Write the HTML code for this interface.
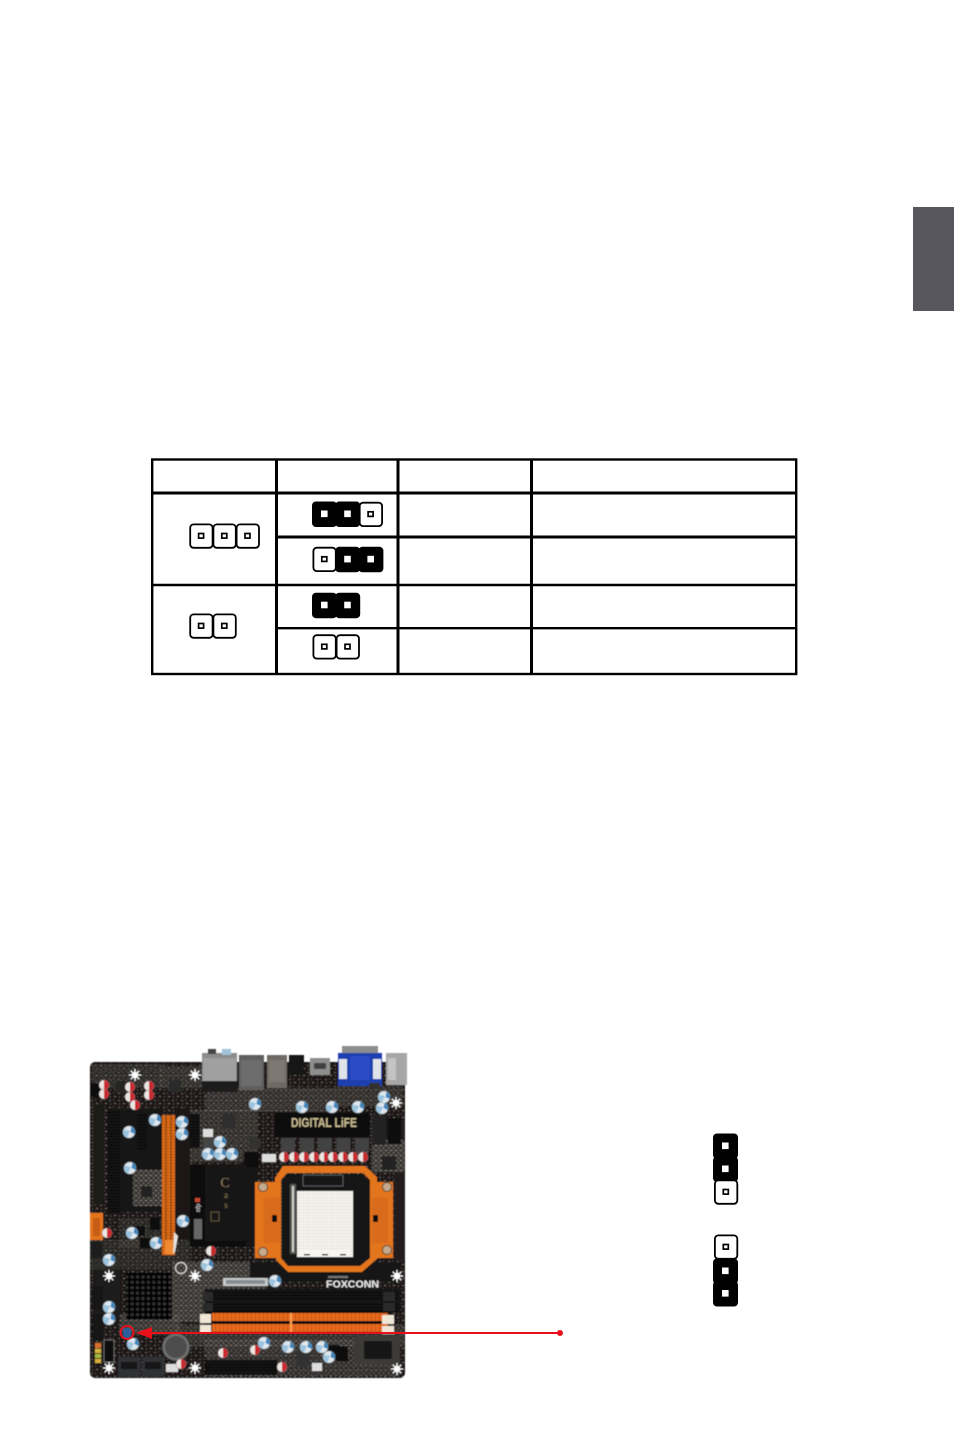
<!DOCTYPE html>
<html><head><meta charset="utf-8"><style>
html,body{margin:0;padding:0;background:#fff}
svg{display:block}
</style></head><body>
<svg width="954" height="1452" viewBox="0 0 954 1452" xmlns="http://www.w3.org/2000/svg">
<defs>
<filter id="b" x="-5%" y="-5%" width="110%" height="110%"><feGaussianBlur stdDeviation="0.45"/></filter>
<pattern id="spk" width="9" height="7" patternUnits="userSpaceOnUse">
<rect width="9" height="7" fill="#1a1817"/>
<rect x="1" y="1" width="2" height="1" fill="#5c5855"/><rect x="5" y="0" width="1" height="2" fill="#3f3c3a"/>
<rect x="6" y="4" width="2" height="1" fill="#6a6662"/><rect x="2" y="4" width="1" height="2" fill="#474441"/>
</pattern>
<pattern id="spk2" width="5" height="5" patternUnits="userSpaceOnUse">
<rect width="5" height="5" fill="#45423f"/>
<rect x="0" y="0" width="2" height="1" fill="#9a958f"/><rect x="3" y="2" width="1" height="2" fill="#7d7974"/><rect x="1" y="3" width="1" height="1" fill="#1d1b1a"/>
</pattern>
<pattern id="sink" width="5.4" height="5.4" patternUnits="userSpaceOnUse">
<rect width="5.4" height="5.4" fill="#050505"/><rect x="1" y="1" width="3" height="3" fill="#333"/>
</pattern>
<pattern id="sock" width="3" height="3" patternUnits="userSpaceOnUse">
<rect width="3" height="3" fill="#f4f2ec"/><rect width="1" height="1" fill="#d0cdc4"/>
</pattern>
<pattern id="teeth" width="3" height="3" patternUnits="userSpaceOnUse">
<rect width="3" height="3" fill="#e2711f"/><rect y="2" width="3" height="1" fill="#b9590f"/>
</pattern>
<pattern id="slot" width="3" height="3" patternUnits="userSpaceOnUse">
<rect width="3" height="3" fill="#171717"/><rect y="2" width="3" height="1" fill="#050505"/>
</pattern>
<pattern id="dimmO" width="4" height="4" patternUnits="userSpaceOnUse">
<rect width="4" height="4" fill="#e8691c"/><rect x="3" width="1" height="4" fill="#c45712"/>
</pattern>
<symbol id="bc" overflow="visible"><circle r="6" fill="#dfe8ee" stroke="#8f9aa0" stroke-width=".6"/><path d="M-5.4 -2.4A6 6 0 0 0 -2 5.6L1 -1Z" fill="#9cc4df"/><path d="M2.5 -5.400A6 6 0 0 1 5.7 2L1.500 0Z" fill="#3f86bd"/></symbol>
<symbol id="rc" overflow="visible"><circle r="5" fill="#ece6e3" stroke="#8d8582" stroke-width=".5"/><path d="M0 -5A5 5 0 0 1 0 5Z" fill="#c92c30"/></symbol>
<symbol id="st" overflow="visible"><path d="M0 -6V6M-6 0H6M-4.2 -4.2L4.2 4.2M-4.2 4.2L4.2 -4.2" stroke="#fff" stroke-width="1.100"/><circle r="3.200" fill="#fff"/></symbol>
<symbol id="po" overflow="visible"><rect x=".9" y=".9" width="22.4" height="23.4" rx="3.400" fill="#fff" stroke="#000" stroke-width="1.800"/><rect x="9.300" y="10" width="5" height="4.600" fill="#fff" stroke="#000" stroke-width="1.700"/></symbol>
<symbol id="pc" overflow="visible"><rect x="-.5" y="0" width="25" height="25.500" rx="4" fill="#000"/><rect x="8.500" y="9" width="6.600" height="6.600" fill="#fff"/></symbol>
</defs>

<rect width="954" height="1452" fill="#fff"/>
<rect x="913" y="207" width="41" height="104" fill="#57575d"/>

<!-- table -->
<g stroke="#000" fill="none">
<rect x="152.200" y="459.500" width="644" height="214.500" stroke-width="2.400"/>
<path d="M276.500 459V674M398 459V674M531.500 459V674" stroke-width="3"/>
<path d="M152 493H796M276 537H796" stroke-width="3"/>
<path d="M152 585H796" stroke-width="2.400"/>
<path d="M276 628.200H796" stroke-width="2.400"/>
</g>
<!-- table jumpers -->
<use href="#po" x="189.300" y="523.500"/><use href="#po" x="212.500" y="523.500"/><use href="#po" x="235.700" y="523.500"/>
<use href="#po" x="189.300" y="613.500"/><use href="#po" x="212.500" y="613.500"/>
<use href="#pc" x="312.500" y="501.500"/><use href="#pc" x="335.700" y="501.500"/><use href="#po" x="358.800" y="501.800"/>
<use href="#po" x="312.500" y="546.800"/><use href="#pc" x="335.700" y="546.800"/><use href="#pc" x="358.900" y="546.800"/>
<use href="#pc" x="312.500" y="592.700"/><use href="#pc" x="335.700" y="592.700"/>
<use href="#po" x="312.500" y="634.300"/><use href="#po" x="335.700" y="634.300"/>

<!-- right jumpers -->
<use href="#pc" x="713.500" y="1133.500"/><use href="#pc" x="713.500" y="1156.500"/><use href="#po" x="714" y="1179.500"/>
<use href="#po" x="714" y="1234.500"/><use href="#pc" x="713.500" y="1258.500"/><use href="#pc" x="713.500" y="1281"/>

<!-- motherboard -->
<g filter="url(#b)">
<rect x="90" y="1062" width="315" height="316" rx="5" fill="url(#spk)"/>
<rect x="120" y="1110" width="42" height="102" fill="#141312"/>
<rect x="176" y="1110" width="14" height="130" fill="#1a1918"/>
<rect x="246" y="1165" width="12" height="82" fill="#141312"/>
<rect x="394" y="1120" width="11" height="140" fill="#211f1e"/>
<rect x="95" y="1258" width="25" height="60" fill="#1f1e1d"/>
<rect x="92" y="1064" width="70" height="24" fill="url(#spk2)" opacity=".4"/>
<rect x="160" y="1066" width="42" height="22" fill="url(#spk2)" opacity=".5"/>
<rect x="205" y="1088" width="130" height="24" fill="url(#spk2)" opacity=".55"/>
<rect x="335" y="1086" width="68" height="20" fill="url(#spk2)" opacity=".5"/>
<rect x="372" y="1140" width="32" height="32" fill="url(#spk2)" opacity=".8"/>
<rect x="190" y="1110" width="68" height="52" fill="url(#spk2)" opacity=".5"/>
<rect x="133" y="1170" width="30" height="36" fill="url(#spk2)" opacity=".85"/>
<rect x="120" y="1218" width="45" height="30" fill="url(#spk2)" opacity=".3"/>
<rect x="90" y="1240" width="100" height="30" fill="url(#spk2)" opacity=".3"/>
<rect x="172" y="1262" width="95" height="60" fill="url(#spk2)" opacity=".75"/>
<rect x="176" y="1325" width="228" height="22" fill="url(#spk2)" opacity=".5"/>
<rect x="120" y="1315" width="60" height="20" fill="url(#spk2)" opacity=".7"/>
<rect x="205" y="1340" width="195" height="36" fill="url(#spk2)" opacity=".55"/>
<rect x="250" y="1262" width="150" height="20" fill="#181716"/>
<rect x="355" y="1335" width="45" height="30" fill="#3d3a38"/>
<rect x="364" y="1341" width="28" height="18" fill="#141414"/>
<rect x="325" y="1345" width="15" height="15" fill="#111"/>

<!-- IO -->
<rect x="202" y="1053" width="35" height="34" fill="#8b8b8b"/><rect x="203" y="1058" width="33" height="25" fill="#a0a0a0"/>
<rect x="202" y="1081" width="35" height="11" fill="#1e1e1e"/><rect x="222" y="1049" width="9" height="6" fill="#9fc4dc"/><rect x="208" y="1049" width="8" height="5" fill="#444"/>
<rect x="239" y="1055" width="25" height="35" fill="#5e5e5e"/><rect x="241" y="1060" width="21" height="26" fill="#6d6d6d"/>
<rect x="267" y="1055" width="20" height="33" fill="#6e6a64"/><rect x="269" y="1060" width="16" height="22" fill="#7d7972"/>
<rect x="289" y="1055" width="15" height="20" fill="#141414"/>
<rect x="310" y="1058" width="20" height="17" fill="#8e8e8e"/><rect x="314" y="1063" width="12" height="6" fill="#3f3f3f"/>
<rect x="342" y="1046" width="36" height="9" fill="#8d8d8d"/>
<rect x="338" y="1053" width="44" height="33" fill="#1f3fb0"/>
<rect x="339" y="1059" width="8" height="20" fill="#dfe3ea"/><rect x="373" y="1059" width="8" height="20" fill="#dfe3ea"/>
<rect x="350" y="1056" width="20" height="24" fill="#2a4cc5"/>
<rect x="386" y="1053" width="21" height="32" fill="#a6a6a6"/><rect x="388" y="1058" width="8" height="22" fill="#c4c4c4"/>

<!-- left header / slots -->
<rect x="91" y="1083" width="9" height="14" fill="#0b0b0b"/>
<rect x="93" y="1104" width="10" height="100" fill="#1b1a19"/>
<rect x="108" y="1110" width="12" height="103" fill="url(#slot)"/>
<rect x="137" y="1114" width="10" height="36" fill="url(#slot)"/>
<rect x="190" y="1114" width="10" height="34" fill="url(#slot)"/>
<rect x="162" y="1115" width="13" height="140" fill="url(#teeth)"/>
<rect x="165" y="1115" width="2" height="125" fill="#a8500f"/><rect x="170" y="1115" width="2" height="125" fill="#a8500f"/>
<rect x="165" y="1240" width="8" height="14" fill="#f08a30"/>
<path d="M174 1232l4 4-3 16-2 2Z" fill="#e6e2dc"/>
<rect x="90" y="1213" width="13" height="27" fill="#e5741f"/><rect x="93" y="1218" width="7" height="18" fill="#c65c12"/>
<rect x="91" y="1242" width="11" height="16" fill="#1a1a1a"/>
<rect x="92" y="1286" width="11" height="24" fill="#151515"/><rect x="92" y="1314" width="11" height="26" fill="#151515"/>
<rect x="95" y="1343" width="6" height="5" fill="#d8702a"/><rect x="95" y="1349" width="6" height="4" fill="#d9b63a"/><rect x="95" y="1354" width="6" height="4" fill="#a5b83c"/><rect x="95" y="1359" width="6" height="4" fill="#d8b03a"/>
<rect x="104" y="1340" width="10" height="22" fill="#0d0d0d" stroke="#888" stroke-width=".7"/>

<!-- chips -->
<rect x="115" y="1081" width="13" height="12" fill="#252525"/><rect x="169" y="1080" width="12" height="12" fill="#2b2b2b"/>
<rect x="222" y="1114" width="14" height="14" fill="#2d2d2d"/><rect x="141" y="1186" width="11" height="11" fill="#222"/>
<rect x="382" y="1156" width="14" height="14" fill="#222"/>
<rect x="244" y="1152" width="15" height="15" fill="#0a0a0a"/><rect x="249" y="1138" width="12" height="10" fill="#333"/>
<rect x="203" y="1129" width="10" height="8" fill="#ddd"/><rect x="203" y="1138" width="11" height="10" fill="#444"/>
<rect x="262" y="1154" width="14" height="8" fill="#ddd"/>
<rect x="133" y="1226" width="12" height="10" fill="#111"/>
<rect x="140" y="1238" width="12" height="10" fill="#111"/>
<rect x="150" y="1218" width="10" height="12" fill="#111"/>
<rect x="369" y="1083" width="11" height="5" fill="#333"/>

<!-- Digital life heatsink -->
<rect x="275" y="1113" width="95" height="24" rx="1" fill="#0f0f10"/>
<rect x="372" y="1115" width="14" height="30" fill="#222"/><rect x="388" y="1118" width="13" height="26" fill="#0c0c0c"/>
<text x="291" y="1127" font-family="Liberation Sans, sans-serif" font-size="12.500" font-weight="bold" fill="#c9bc92" textLength="66" lengthAdjust="spacingAndGlyphs">DIGITAL LiFE</text>
<!-- chokes -->
<g fill="#434343"><rect x="281" y="1138" width="14" height="14"/><rect x="300" y="1138" width="14" height="14"/><rect x="318" y="1138" width="14" height="14"/><rect x="336.500" y="1138" width="14" height="14"/><rect x="355" y="1138" width="14" height="14"/></g>
<use href="#rc" x="284" y="1157"/><use href="#rc" x="294" y="1157"/><use href="#rc" x="304" y="1157"/><use href="#rc" x="314" y="1157"/><use href="#rc" x="324" y="1157"/><use href="#rc" x="333" y="1157"/><use href="#rc" x="343" y="1157"/><use href="#rc" x="353" y="1157"/><use href="#rc" x="363" y="1157"/>

<!-- chipset heatsink -->
<rect x="190" y="1165" width="56" height="82" fill="#0d0d0e"/>
<rect x="205" y="1165" width="41" height="76" fill="#141415"/>
<text x="225" y="1187" font-family="Liberation Serif, serif" font-size="14" fill="#8a7a55" text-anchor="middle">C</text>
<text x="226" y="1198" font-family="Liberation Serif, serif" font-size="9" fill="#8a7a55" text-anchor="middle">a</text>
<text x="226" y="1208" font-family="Liberation Serif, serif" font-size="9" fill="#8a7a55" text-anchor="middle">s</text>
<rect x="211" y="1212" width="8" height="9" fill="none" stroke="#7a6c4b" stroke-width=".7"/>
<rect x="195" y="1198" width="5" height="4" fill="#c9492c"/><text x="200" y="1212" transform="rotate(-90 200 1212)" font-family="Liberation Sans, sans-serif" font-size="6" fill="#ddd">nfp</text>
<rect x="194" y="1219" width="8" height="20" fill="#666"/>

<!-- bracket -->
<path fill-rule="evenodd" fill="#e3741f" d="M283 1166H365L377 1177V1182H393V1258H378L362 1272H288L276 1260V1258H255V1182H275V1178ZM287 1173L281 1180V1258L288 1266H360L370 1258V1180L363 1173Z"/>
<rect x="264" y="1198" width="16" height="45" fill="#d96c1c"/><rect x="372" y="1198" width="16" height="45" fill="#d96c1c"/>
<rect x="272" y="1215" width="5" height="7" fill="#111"/><rect x="373" y="1215" width="5" height="7" fill="#111"/>
<g fill="#c4a98b" stroke="#5b4433" stroke-width="1"><circle cx="263" cy="1187" r="4.500"/><circle cx="387" cy="1187" r="4.500"/><circle cx="263" cy="1252" r="4.500"/><circle cx="387" cy="1250" r="4.500"/></g>
<path d="M288 1174H362L369 1181V1257L360 1265H289L282 1257V1181Z" fill="#141312"/>
<rect x="290" y="1184" width="6" height="70" fill="#555"/><rect x="292" y="1186" width="2" height="66" fill="#d4d0c8"/>
<rect x="297" y="1191" width="56" height="66" fill="url(#sock)"/>
<rect x="300" y="1250" width="50" height="7" fill="#f7f5ef"/>
<rect x="304" y="1254" width="6" height="1.500" fill="#111"/><rect x="322" y="1254" width="6" height="1.500" fill="#111"/><rect x="340" y="1254" width="6" height="1.500" fill="#111"/>
<rect x="303" y="1175" width="40" height="11" fill="none" stroke="#6a6a6a" stroke-width=".8"/>

<!-- label + foxconn -->
<rect x="223" y="1278" width="45" height="8" rx="1" fill="#c5c9cb"/><rect x="226" y="1280" width="39" height="4" fill="#8a8d8f"/>
<text x="326" y="1287.500" font-family="Liberation Sans, sans-serif" font-size="10.500" font-weight="bold" fill="#ececec" textLength="53" lengthAdjust="spacingAndGlyphs">FOXCONN</text>
<rect x="328" y="1276" width="20" height="2" fill="#777"/>

<!-- dimm -->
<rect x="205" y="1289" width="196" height="23" fill="#151515"/>
<rect x="208" y="1290" width="190" height="10" fill="url(#slot)"/><rect x="208" y="1303" width="190" height="9" fill="url(#slot)"/>
<rect x="203" y="1292" width="10" height="9" fill="#2a2a2a"/><rect x="383" y="1292" width="12" height="9" fill="#2a2a2a"/>
<rect x="203" y="1303" width="10" height="8" fill="#2a2a2a"/><rect x="383" y="1303" width="12" height="8" fill="#2a2a2a"/>
<rect x="205" y="1312" width="185" height="22" fill="#111"/>
<rect x="212" y="1313" width="176" height="8" fill="url(#dimmO)"/><rect x="212" y="1324" width="176" height="8" fill="url(#dimmO)"/>
<rect x="290" y="1313" width="2" height="20" fill="#ffa050"/>
<g fill="#efe6d6"><rect x="200" y="1314" width="11" height="9"/><rect x="200" y="1325" width="11" height="8"/><rect x="382" y="1315" width="12" height="9"/><rect x="382" y="1326" width="12" height="8"/></g>

<!-- south heatsink -->
<rect x="126" y="1273" width="46" height="47" fill="url(#sink)"/>

<!-- bottom -->
<circle cx="176" cy="1347" r="14" fill="#6f6f6f" stroke="#333"/><circle cx="176" cy="1347" r="11" fill="#4e4e4e"/>
<rect x="118" y="1357" width="22" height="20" fill="#2f3235"/><rect x="142" y="1357" width="22" height="20" fill="#2f3235"/>
<rect x="121" y="1362" width="16" height="7" fill="#171717"/><rect x="145" y="1362" width="16" height="7" fill="#171717"/>
<rect x="205" y="1360" width="72" height="15" fill="#0f0f0f"/><rect x="207" y="1362" width="68" height="11" fill="url(#slot)"/>
<rect x="166" y="1364" width="12" height="8" fill="#ddd"/><rect x="312" y="1363" width="10" height="8" fill="#ddd"/>
<rect x="296" y="1352" width="14" height="14" fill="#333"/><rect x="336" y="1346" width="12" height="15" fill="#0a0a0a"/>
<rect x="123" y="1328" width="8" height="10" fill="#2a5f9c"/>

<!-- caps -->
<use href="#bc" x="255" y="1104"/><use href="#bc" x="302" y="1107"/><use href="#bc" x="332" y="1107"/><use href="#bc" x="358" y="1107"/><use href="#bc" x="382" y="1108"/><use href="#bc" x="384" y="1097"/>
<use href="#bc" x="155" y="1120"/><use href="#bc" x="182" y="1122"/><use href="#bc" x="182" y="1134"/><use href="#bc" x="129" y="1132"/><use href="#bc" x="130" y="1168"/>
<use href="#bc" x="220" y="1142"/><use href="#bc" x="208" y="1154"/><use href="#bc" x="220" y="1154"/><use href="#bc" x="232" y="1154"/>
<use href="#bc" x="183" y="1221"/><use href="#bc" x="132" y="1233"/><use href="#bc" x="156" y="1243"/><use href="#bc" x="109" y="1260"/><use href="#bc" x="207" y="1265"/><use href="#bc" x="275" y="1281"/>
<use href="#bc" x="109" y="1307"/><use href="#bc" x="109" y="1319"/><use href="#bc" x="133" y="1344"/><use href="#bc" x="264" y="1343"/><use href="#bc" x="288" y="1347"/><use href="#bc" x="306" y="1347"/><use href="#bc" x="322" y="1347"/><use href="#bc" x="329" y="1357"/>
<use href="#rc" x="104" y="1085"/><use href="#rc" x="104" y="1094"/><use href="#rc" x="130" y="1087"/><use href="#rc" x="149" y="1086"/><use href="#rc" x="149" y="1095"/><use href="#rc" x="130" y="1097"/><use href="#rc" x="135" y="1105"/>
<use href="#rc" x="107" y="1233"/><use href="#rc" x="211" y="1251"/><use href="#rc" x="223" y="1353"/><use href="#rc" x="255" y="1350"/><use href="#rc" x="282" y="1367"/><use href="#rc" x="181" y="1364"/>
<!-- stars -->
<use href="#st" x="135" y="1075"/><use href="#st" x="195" y="1075"/><use href="#st" x="396" y="1103"/><use href="#st" x="109" y="1276"/><use href="#st" x="195" y="1276"/><use href="#st" x="397" y="1276"/><use href="#st" x="109" y="1368"/><use href="#st" x="195" y="1368"/><use href="#st" x="397" y="1369"/>
<circle cx="181" cy="1268" r="5.500" fill="none" stroke="#d5d5d5" stroke-width="1.200"/>
</g>

<!-- pointer -->
<circle cx="127" cy="1332.500" r="6.500" fill="none" stroke="#e8101a" stroke-width="2"/>
<path d="M150 1333H560" stroke="#e8101a" stroke-width="2"/>
<path d="M136 1332.800L152 1327V1339Z" fill="#e8101a"/>
<circle cx="560" cy="1333" r="3" fill="#e8101a"/>
</svg>
</body></html>
